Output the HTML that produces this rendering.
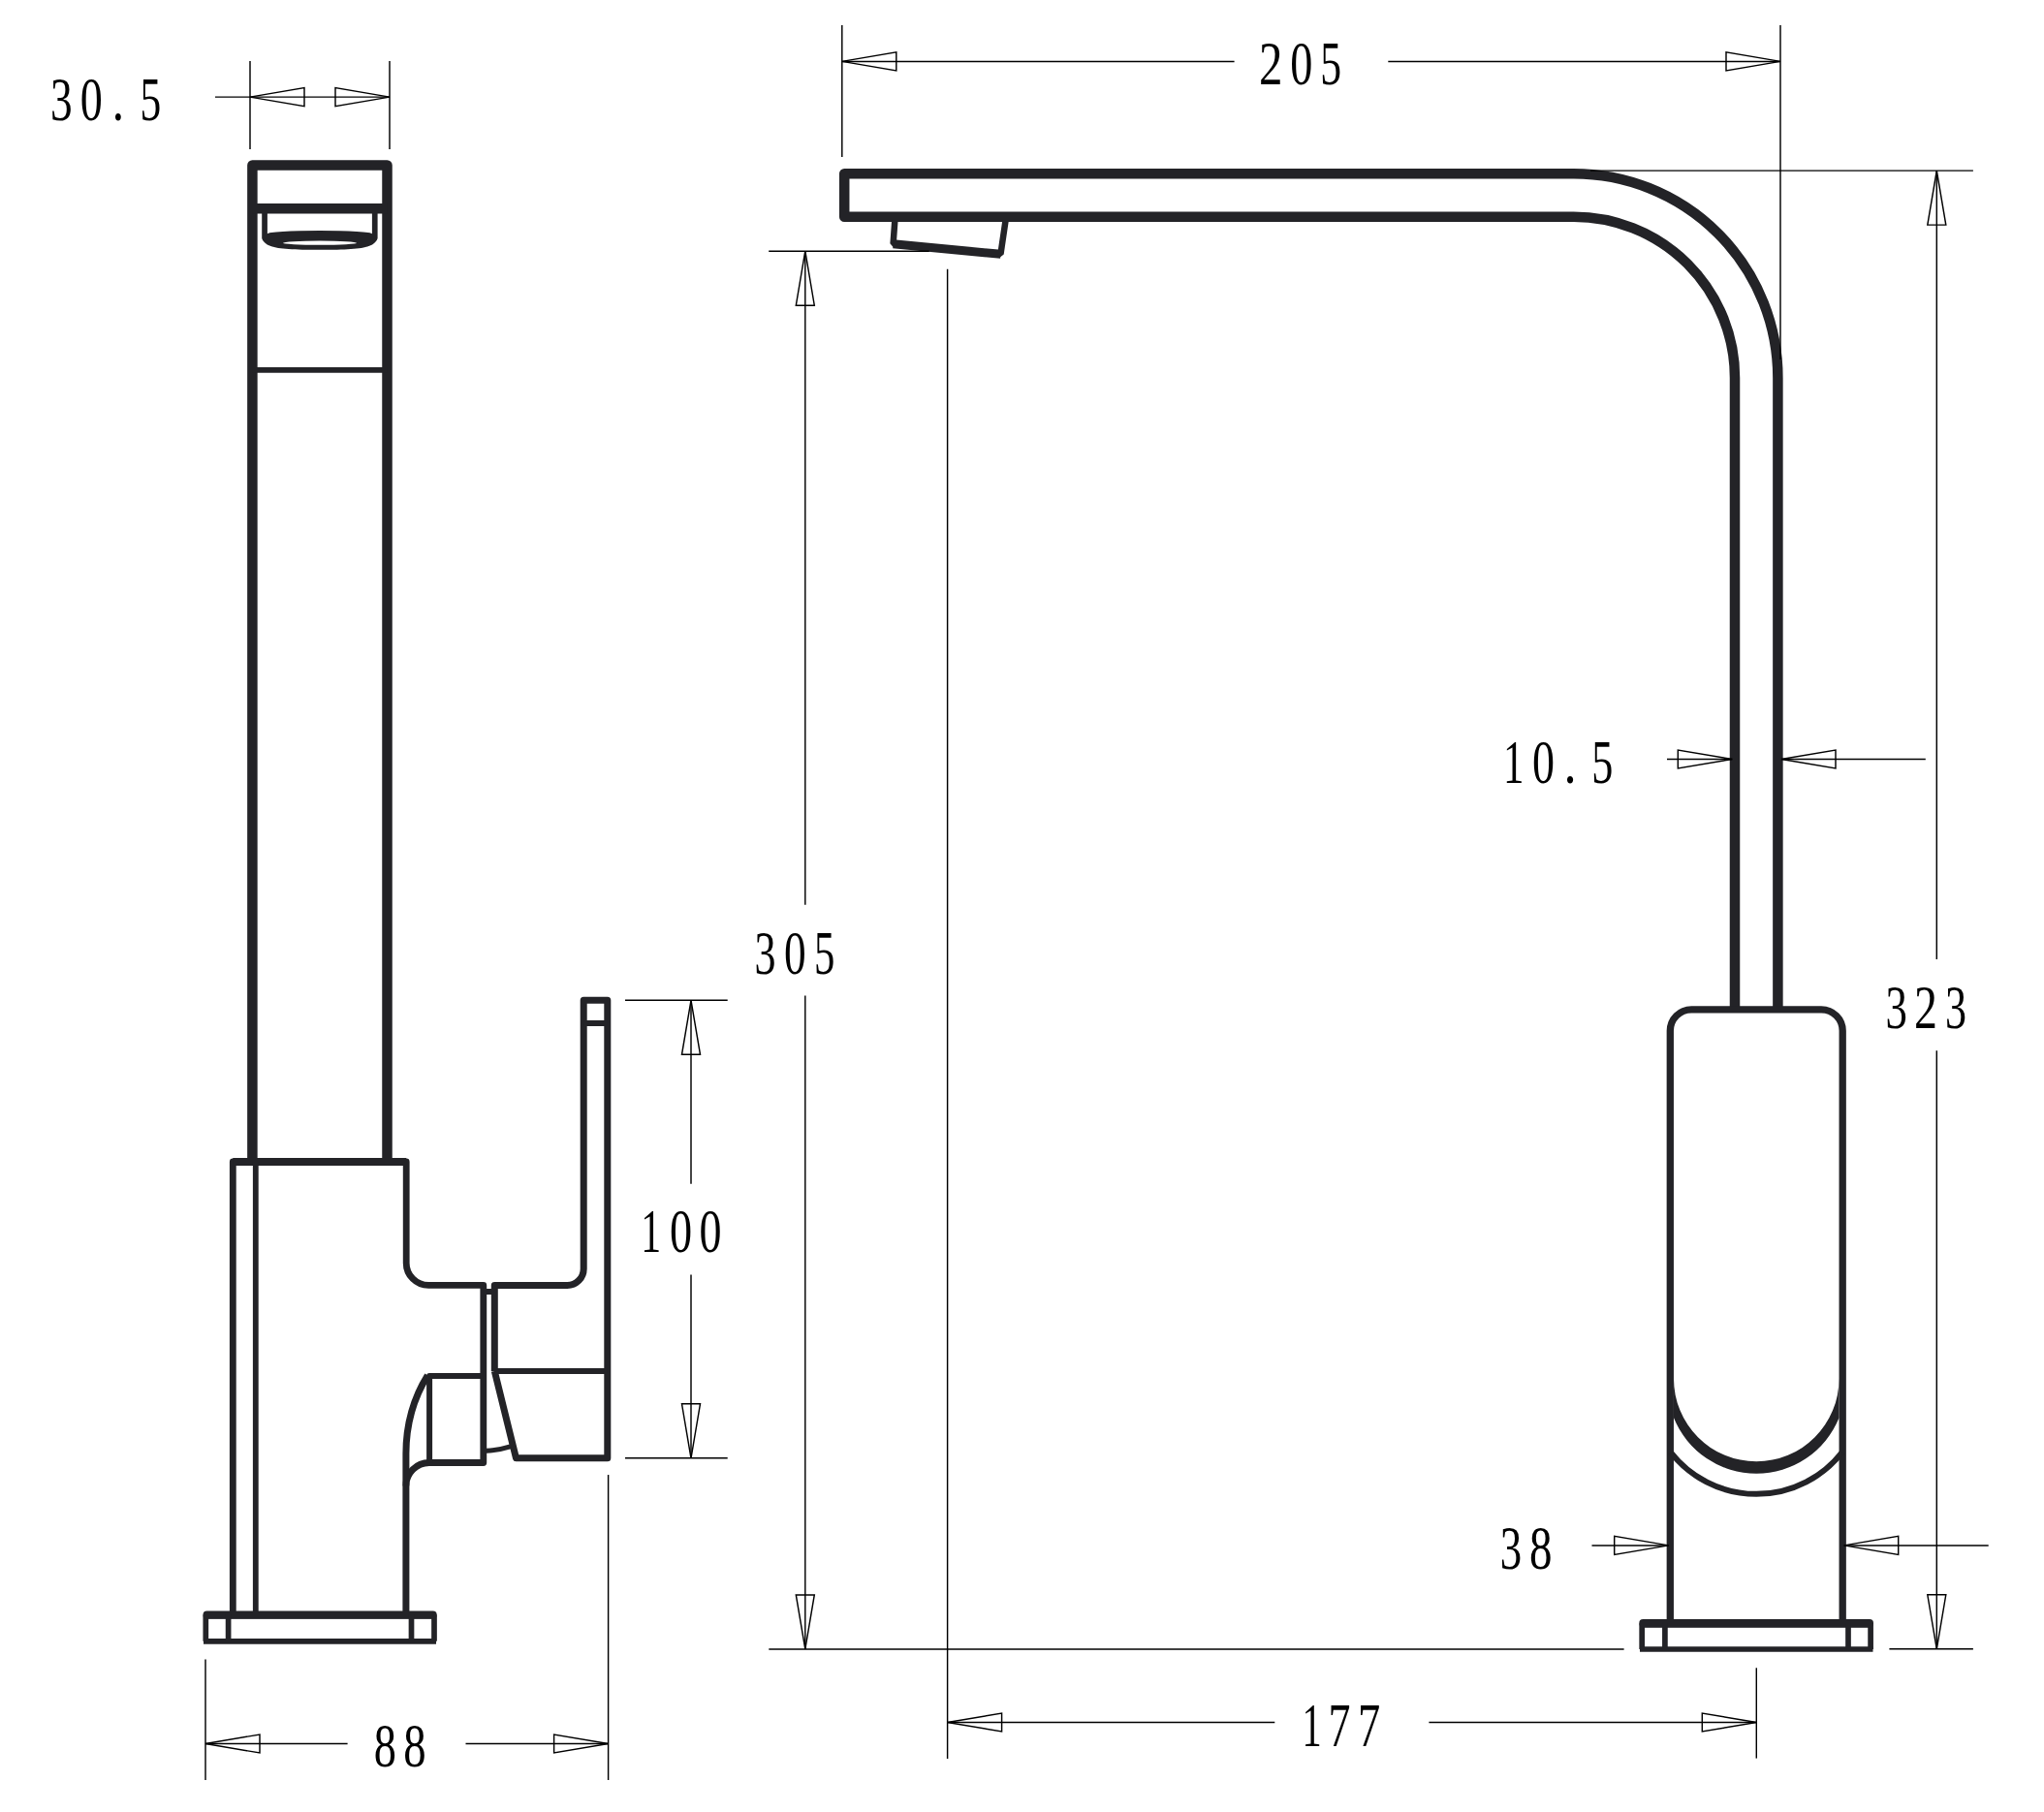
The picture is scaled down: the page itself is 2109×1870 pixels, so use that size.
<!DOCTYPE html>
<html><head><meta charset="utf-8"><title>Faucet drawing</title>
<style>
html,body{margin:0;padding:0;background:#fff;}
body{width:2109px;height:1870px;overflow:hidden;}
svg{display:block;}
text{font-family:"Liberation Serif",serif;font-size:64px;fill:#000;}
</style></head><body>
<svg width="2109" height="1870" viewBox="0 0 2109 1870">
<rect width="2109" height="1870" fill="#fff"/>
<path d="M260.4 1199V170.5H399.5V1199" fill="none" stroke="#232327" stroke-width="10.5" stroke-linejoin="round" stroke-linecap="butt"/>
<line x1="260.4" y1="215.3" x2="399.5" y2="215.3" stroke="#232327" stroke-width="10.5" stroke-linecap="butt"/>
<line x1="260.4" y1="381.9" x2="399.5" y2="381.9" stroke="#232327" stroke-width="5.8" stroke-linecap="butt"/>
<path d="M270.2 220H275.9V241.5A54 3.6 0 0 1 383.9 241.5V220H389.6V246C386 256 372 257.8 330 257.8C288 257.8 274 256 270.2 246Z" fill="#232327"/>
<ellipse cx="330" cy="250.7" rx="38" ry="2.1" fill="#fff"/>
<path d="M240.3 1666V1199H419.2V1303.4A23 23 0 0 0 442.2 1326.4H498.8V1509.5H443A24 24 0 0 0 418.9 1533.5" fill="none" stroke="#232327" stroke-width="6.8" stroke-linejoin="round" stroke-linecap="butt"/>
<line x1="240.3" y1="1199" x2="419.2" y2="1199" stroke="#232327" stroke-width="8" stroke-linecap="butt"/>
<line x1="263.8" y1="1199" x2="263.8" y2="1666" stroke="#232327" stroke-width="5.8" stroke-linecap="butt"/>
<path d="M441.3 1419.3Q419 1455 418.9 1500V1666" fill="none" stroke="#232327" stroke-width="7" stroke-linejoin="round" stroke-linecap="butt"/>
<path d="M498.8 1420.1H443.1V1509.5" fill="none" stroke="#232327" stroke-width="6" stroke-linejoin="round" stroke-linecap="butt"/>
<path d="M212.3 1693.8V1668H448V1693.8" fill="none" stroke="#232327" stroke-width="5.7" stroke-linejoin="round" stroke-linecap="butt"/>
<rect x="209.5" y="1662.4" width="241.2" height="8" rx="4" fill="#232327"/>
<line x1="210" y1="1693.8" x2="450" y2="1693.8" stroke="#232327" stroke-width="5.7" stroke-linecap="butt"/>
<line x1="235.6" y1="1666" x2="235.6" y2="1694" stroke="#232327" stroke-width="5.7" stroke-linecap="butt"/>
<line x1="424.5" y1="1666" x2="424.5" y2="1694" stroke="#232327" stroke-width="5.7" stroke-linecap="butt"/>
<path d="M510.3 1415V1326.4H585A17 17 0 0 0 602.2 1309.4V1032.3H626.8V1504.8H532.5L510.3 1415" fill="none" stroke="#232327" stroke-width="7" stroke-linejoin="round" stroke-linecap="butt"/>
<line x1="510.3" y1="1415.1" x2="626.8" y2="1415.1" stroke="#232327" stroke-width="6" stroke-linecap="butt"/>
<line x1="602.2" y1="1056" x2="626.8" y2="1056" stroke="#232327" stroke-width="6" stroke-linecap="butt"/>
<rect x="501" y="1330" width="7" height="6" fill="#232327"/>
<path d="M501.6 1497.2Q515 1496.5 527.5 1492.6" fill="none" stroke="#232327" stroke-width="5" stroke-linejoin="round" stroke-linecap="butt"/>
<path d="M1834.4 1041.8V390A210.7 210.7 0 0 0 1623.7 179.2H871.2V223.7H1623.7A166.3 166.3 0 0 1 1790 390V1041.8" fill="none" stroke="#232327" stroke-width="10.5" stroke-linejoin="round" stroke-linecap="butt"/>
<path d="M923.3 228L921.6 251.5L1032.5 262L1037.5 228" fill="none" stroke="#232327" stroke-width="6.5" stroke-linejoin="bevel" stroke-linecap="butt"/>
<line x1="921.6" y1="251.8" x2="1032.5" y2="262.3" stroke="#232327" stroke-width="9" stroke-linecap="butt"/>
<path d="M1723.3 1675V1063.8A22 22 0 0 1 1745.3 1041.8H1879.2A22 22 0 0 1 1901.2 1063.8V1675" fill="none" stroke="#232327" stroke-width="7.3" stroke-linejoin="round" stroke-linecap="butt"/>
<path d="M1727 1463.3A92 92 0 0 0 1897.5 1463.3V1423A85.25 85.25 0 0 1 1727 1423Z" fill="#232327"/>
<path d="M1724 1499A112.3 112.3 0 0 0 1900.5 1499" fill="none" stroke="#232327" stroke-width="6"/>
<path d="M1694.2 1702V1677H1930.1V1702" fill="none" stroke="#232327" stroke-width="5.7" stroke-linejoin="round" stroke-linecap="butt"/>
<rect x="1691.3" y="1670.9" width="241.7" height="8.4" rx="4" fill="#232327"/>
<line x1="1692" y1="1702" x2="1932.5" y2="1702" stroke="#232327" stroke-width="5.7" stroke-linecap="butt"/>
<line x1="1717.9" y1="1675" x2="1717.9" y2="1702" stroke="#232327" stroke-width="5.7" stroke-linecap="butt"/>
<line x1="1907" y1="1675" x2="1907" y2="1702" stroke="#232327" stroke-width="5.7" stroke-linecap="butt"/>
<line x1="258" y1="63" x2="258" y2="154" stroke="#000" stroke-width="1.45" stroke-linecap="butt"/>
<line x1="402" y1="63" x2="402" y2="154" stroke="#000" stroke-width="1.45" stroke-linecap="butt"/>
<line x1="222" y1="100.1" x2="402" y2="100.1" stroke="#000" stroke-width="1.45" stroke-linecap="butt"/>
<path d="M258.0 100.1L314.0 90.6L314.0 109.6Z" fill="none" stroke="#000" stroke-width="1.45" stroke-linejoin="miter"/>
<path d="M402.0 100.1L346.0 109.6L346.0 90.6Z" fill="none" stroke="#000" stroke-width="1.45" stroke-linejoin="miter"/>
<text transform="translate(51.93 124.30) scale(0.7073 1.0048)">3</text>
<text transform="translate(82.75 124.30) scale(0.7189 1.0048)">0</text>
<text transform="translate(115.76 124.30) scale(0.7669 1.0048)">.</text>
<text transform="translate(144.38 124.30) scale(0.6788 1.0048)">5</text>
<line x1="212" y1="1712.6" x2="212" y2="1837" stroke="#000" stroke-width="1.45" stroke-linecap="butt"/>
<line x1="627.6" y1="1522" x2="627.6" y2="1837" stroke="#000" stroke-width="1.45" stroke-linecap="butt"/>
<line x1="212" y1="1799.5" x2="358.6" y2="1799.5" stroke="#000" stroke-width="1.45" stroke-linecap="butt"/>
<line x1="480.5" y1="1799.5" x2="627.6" y2="1799.5" stroke="#000" stroke-width="1.45" stroke-linecap="butt"/>
<path d="M212.0 1799.5L268.0 1790.0L268.0 1809.0Z" fill="none" stroke="#000" stroke-width="1.45" stroke-linejoin="miter"/>
<path d="M627.6 1799.5L571.6 1809.0L571.6 1790.0Z" fill="none" stroke="#000" stroke-width="1.45" stroke-linejoin="miter"/>
<text transform="translate(385.84 1823.30) scale(0.7226 1.0048)">8</text>
<text transform="translate(416.22 1823.30) scale(0.7300 1.0048)">8</text>
<line x1="645" y1="1032.3" x2="750.7" y2="1032.3" stroke="#000" stroke-width="1.45" stroke-linecap="butt"/>
<line x1="645" y1="1504.8" x2="750.7" y2="1504.8" stroke="#000" stroke-width="1.45" stroke-linecap="butt"/>
<line x1="713" y1="1032.3" x2="713" y2="1221.7" stroke="#000" stroke-width="1.45" stroke-linecap="butt"/>
<line x1="713" y1="1315.5" x2="713" y2="1504.8" stroke="#000" stroke-width="1.45" stroke-linecap="butt"/>
<path d="M713.0 1032.3L722.5 1088.3L703.5 1088.3Z" fill="none" stroke="#000" stroke-width="1.45" stroke-linejoin="miter"/>
<path d="M713.0 1504.8L703.5 1448.8L722.5 1448.8Z" fill="none" stroke="#000" stroke-width="1.45" stroke-linejoin="miter"/>
<text transform="translate(661.33 1292.30) scale(0.6524 1.0048)">1</text>
<text transform="translate(690.94 1292.30) scale(0.7226 1.0048)">0</text>
<text transform="translate(721.45 1292.30) scale(0.7189 1.0048)">0</text>
<line x1="868.8" y1="26" x2="868.8" y2="162" stroke="#000" stroke-width="1.45" stroke-linecap="butt"/>
<line x1="1837" y1="26" x2="1837" y2="371" stroke="#000" stroke-width="1.45" stroke-linecap="butt"/>
<line x1="868.8" y1="63.4" x2="1273.6" y2="63.4" stroke="#000" stroke-width="1.45" stroke-linecap="butt"/>
<line x1="1432.3" y1="63.4" x2="1837" y2="63.4" stroke="#000" stroke-width="1.45" stroke-linecap="butt"/>
<path d="M868.8 63.4L924.8 53.9L924.8 72.9Z" fill="none" stroke="#000" stroke-width="1.45" stroke-linejoin="miter"/>
<path d="M1837.0 63.4L1781.0 72.9L1781.0 53.9Z" fill="none" stroke="#000" stroke-width="1.45" stroke-linejoin="miter"/>
<text transform="translate(1298.95 87.00) scale(0.7639 1.0048)">2</text>
<text transform="translate(1331.14 87.00) scale(0.7226 1.0048)">0</text>
<text transform="translate(1362.16 87.00) scale(0.6827 1.0048)">5</text>
<line x1="793.2" y1="259.2" x2="958.7" y2="259.2" stroke="#000" stroke-width="1.45" stroke-linecap="butt"/>
<line x1="793.3" y1="1701.9" x2="1675.6" y2="1701.9" stroke="#000" stroke-width="1.45" stroke-linecap="butt"/>
<line x1="830.8" y1="259.2" x2="830.8" y2="933.7" stroke="#000" stroke-width="1.45" stroke-linecap="butt"/>
<line x1="830.8" y1="1027.6" x2="830.8" y2="1701.9" stroke="#000" stroke-width="1.45" stroke-linecap="butt"/>
<path d="M830.8 259.2L840.3 315.2L821.3 315.2Z" fill="none" stroke="#000" stroke-width="1.45" stroke-linejoin="miter"/>
<path d="M830.8 1701.9L821.3 1645.9L840.3 1645.9Z" fill="none" stroke="#000" stroke-width="1.45" stroke-linejoin="miter"/>
<text transform="translate(778.39 1004.50) scale(0.6884 1.0048)">3</text>
<text transform="translate(808.97 1004.50) scale(0.7078 1.0048)">0</text>
<text transform="translate(840.02 1004.50) scale(0.6672 1.0048)">5</text>
<line x1="1641" y1="176.1" x2="2035.9" y2="176.1" stroke="#000" stroke-width="1.45" stroke-linecap="butt"/>
<line x1="1949.4" y1="1701.8" x2="2035.9" y2="1701.8" stroke="#000" stroke-width="1.45" stroke-linecap="butt"/>
<line x1="1998.3" y1="176.1" x2="1998.3" y2="990.1" stroke="#000" stroke-width="1.45" stroke-linecap="butt"/>
<line x1="1998.3" y1="1084.2" x2="1998.3" y2="1701.8" stroke="#000" stroke-width="1.45" stroke-linecap="butt"/>
<path d="M1998.3 176.1L2007.8 232.1L1988.8 232.1Z" fill="none" stroke="#000" stroke-width="1.45" stroke-linejoin="miter"/>
<path d="M1998.3 1701.8L1988.8 1645.8L2007.8 1645.8Z" fill="none" stroke="#000" stroke-width="1.45" stroke-linejoin="miter"/>
<text transform="translate(1945.56 1060.80) scale(0.6998 1.0048)">3</text>
<text transform="translate(1975.10 1060.80) scale(0.7484 1.0048)">2</text>
<text transform="translate(2006.89 1060.80) scale(0.6884 1.0048)">3</text>
<line x1="1720" y1="783.5" x2="1787.3" y2="783.5" stroke="#000" stroke-width="1.45" stroke-linecap="butt"/>
<line x1="1838" y1="783.5" x2="1986.8" y2="783.5" stroke="#000" stroke-width="1.45" stroke-linecap="butt"/>
<path d="M1787.3 783.5L1731.3 793.0L1731.3 774.0Z" fill="none" stroke="#000" stroke-width="1.45" stroke-linejoin="miter"/>
<path d="M1838.0 783.5L1894.0 774.0L1894.0 793.0Z" fill="none" stroke="#000" stroke-width="1.45" stroke-linejoin="miter"/>
<text transform="translate(1550.93 807.50) scale(0.6702 1.0048)">1</text>
<text transform="translate(1581.05 807.50) scale(0.7189 1.0048)">0</text>
<text transform="translate(1613.54 807.50) scale(0.8198 1.0048)">.</text>
<text transform="translate(1642.23 807.50) scale(0.6904 1.0048)">5</text>
<line x1="1642.5" y1="1594.9" x2="1721.7" y2="1594.9" stroke="#000" stroke-width="1.45" stroke-linecap="butt"/>
<line x1="1902.7" y1="1594.9" x2="2051.7" y2="1594.9" stroke="#000" stroke-width="1.45" stroke-linecap="butt"/>
<path d="M1721.7 1594.9L1665.7 1604.4L1665.7 1585.4Z" fill="none" stroke="#000" stroke-width="1.45" stroke-linejoin="miter"/>
<path d="M1902.7 1594.9L1958.7 1585.4L1958.7 1604.4Z" fill="none" stroke="#000" stroke-width="1.45" stroke-linejoin="miter"/>
<text transform="translate(1547.66 1619.20) scale(0.6998 1.0048)">3</text>
<text transform="translate(1578.11 1619.20) scale(0.7336 1.0048)">8</text>
<line x1="977.6" y1="277.7" x2="977.6" y2="1814.9" stroke="#000" stroke-width="1.45" stroke-linecap="butt"/>
<line x1="1812.3" y1="1721.3" x2="1812.3" y2="1814.6" stroke="#000" stroke-width="1.45" stroke-linecap="butt"/>
<line x1="977.6" y1="1777.5" x2="1315.3" y2="1777.5" stroke="#000" stroke-width="1.45" stroke-linecap="butt"/>
<line x1="1474.4" y1="1777.5" x2="1812.3" y2="1777.5" stroke="#000" stroke-width="1.45" stroke-linecap="butt"/>
<path d="M977.6 1777.5L1033.6 1768.0L1033.6 1787.0Z" fill="none" stroke="#000" stroke-width="1.45" stroke-linejoin="miter"/>
<path d="M1812.3 1777.5L1756.3 1787.0L1756.3 1768.0Z" fill="none" stroke="#000" stroke-width="1.45" stroke-linejoin="miter"/>
<text transform="translate(1343.45 1801.50) scale(0.6302 1.0048)">1</text>
<text transform="translate(1370.57 1801.50) scale(0.7171 1.0048)">7</text>
<text transform="translate(1400.94 1801.50) scale(0.7248 1.0048)">7</text>
</svg>
</body></html>
